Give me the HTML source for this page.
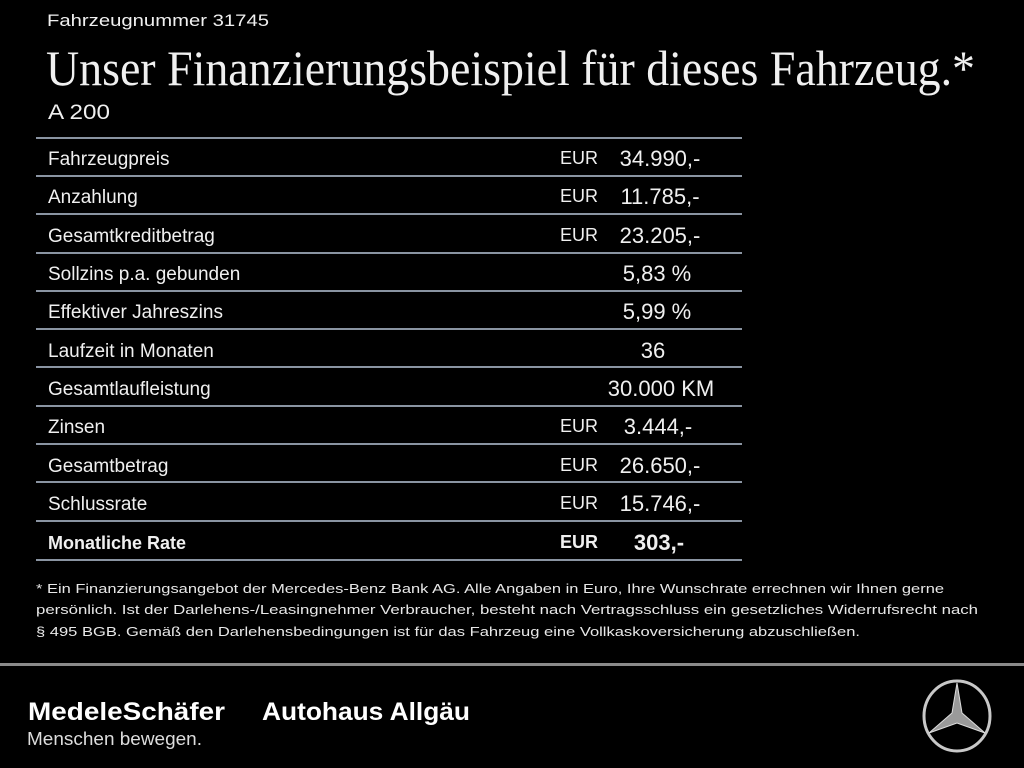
<!DOCTYPE html>
<html><head><meta charset="utf-8"><style>html,body{margin:0;padding:0;background:#000;}svg{display:block}</style></head>
<body>
<svg width="1024" height="768" viewBox="0 0 1024 768" xmlns="http://www.w3.org/2000/svg">
<rect width="1024" height="768" fill="#000"/>
<g font-family="Liberation Sans, DejaVu Sans, sans-serif" fill="#f0f0f0">
<text x="47" y="26" font-size="17" textLength="222" lengthAdjust="spacingAndGlyphs">Fahrzeugnummer 31745</text>
<text x="46" y="85" font-family="Liberation Serif, serif" font-size="50" textLength="929" lengthAdjust="spacingAndGlyphs">Unser Finanzierungsbeispiel für dieses Fahrzeug.*</text>
<text x="48" y="119" font-size="21" textLength="62" lengthAdjust="spacingAndGlyphs">A 200</text>
</g>
<g stroke="#8a94a2" stroke-width="2">
<line x1="36" x2="742" y1="138" y2="138"/><line x1="36" x2="742" y1="176" y2="176"/><line x1="36" x2="742" y1="214" y2="214"/><line x1="36" x2="742" y1="253" y2="253"/><line x1="36" x2="742" y1="291" y2="291"/><line x1="36" x2="742" y1="329" y2="329"/><line x1="36" x2="742" y1="367" y2="367"/><line x1="36" x2="742" y1="406" y2="406"/><line x1="36" x2="742" y1="444" y2="444"/><line x1="36" x2="742" y1="482" y2="482"/><line x1="36" x2="742" y1="521" y2="521"/><line x1="36" x2="742" y1="560" y2="560"/>
</g>
<g font-family="Liberation Sans, DejaVu Sans, sans-serif" fill="#f0f0f0" font-size="19">
<text x="48" y="165">Fahrzeugpreis</text>
<text x="48" y="203">Anzahlung</text>
<text x="48" y="242">Gesamtkreditbetrag</text>
<text x="48" y="280">Sollzins p.a. gebunden</text>
<text x="48" y="318">Effektiver Jahreszins</text>
<text x="48" y="357">Laufzeit in Monaten</text>
<text x="48" y="395">Gesamtlaufleistung</text>
<text x="48" y="433">Zinsen</text>
<text x="48" y="472">Gesamtbetrag</text>
<text x="48" y="510">Schlussrate</text>
<text x="48" y="549" font-weight="bold" font-size="18">Monatliche Rate</text>
<g font-size="18">
<text x="560" y="164">EUR</text><text x="560" y="202">EUR</text><text x="560" y="241">EUR</text>
<text x="560" y="432">EUR</text><text x="560" y="471">EUR</text><text x="560" y="509">EUR</text>
<text x="560" y="548" font-weight="bold">EUR</text>
</g>
<g font-size="22" text-anchor="middle">
<text x="660" y="166">34.990,-</text>
<text x="660" y="204">11.785,-</text>
<text x="660" y="243">23.205,-</text>
<text x="657" y="281">5,83 %</text>
<text x="657" y="319">5,99 %</text>
<text x="653" y="358">36</text>
<text x="661" y="396">30.000 KM</text>
<text x="658" y="434">3.444,-</text>
<text x="660" y="473">26.650,-</text>
<text x="660" y="511">15.746,-</text>
<text x="659" y="550" font-weight="bold">303,-</text>
</g>
</g>
<g font-family="Liberation Sans, DejaVu Sans, sans-serif" fill="#e8e8e8" font-size="13">
<text x="36" y="593" textLength="908" lengthAdjust="spacingAndGlyphs">* Ein Finanzierungsangebot der Mercedes-Benz Bank AG. Alle Angaben in Euro, Ihre Wunschrate errechnen wir Ihnen gerne</text>
<text x="36" y="614" textLength="942" lengthAdjust="spacingAndGlyphs">persönlich. Ist der Darlehens-/Leasingnehmer Verbraucher, besteht nach Vertragsschluss ein gesetzliches Widerrufsrecht nach</text>
<text x="36" y="636" textLength="824" lengthAdjust="spacingAndGlyphs">§ 495 BGB. Gemäß den Darlehensbedingungen ist für das Fahrzeug eine Vollkaskoversicherung abzuschließen.</text>
</g>
<rect x="0" y="663" width="1024" height="3" fill="#8a8a8a"/>
<g font-family="Liberation Sans, DejaVu Sans, sans-serif" fill="#fff">
<text x="28" y="720" font-size="25" font-weight="bold" textLength="197" lengthAdjust="spacingAndGlyphs">MedeleSchäfer</text>
<text x="262" y="720" font-size="25" font-weight="bold" textLength="208" lengthAdjust="spacingAndGlyphs">Autohaus Allgäu</text>
<text x="27" y="745" font-size="18" fill="#ddd" textLength="175" lengthAdjust="spacingAndGlyphs">Menschen bewegen.</text>
</g>
<g transform="translate(957,716)" stroke="#c8c8c8" fill="none">
<ellipse rx="33" ry="35" stroke-width="3"/>
<path d="M0,-33 L5,-3 L28,17 L0,7 L-28,17 L-5,-3 Z" fill="#9a9a9a" stroke="#ddd" stroke-width="1"/>
</g>
</svg>
</body></html>
